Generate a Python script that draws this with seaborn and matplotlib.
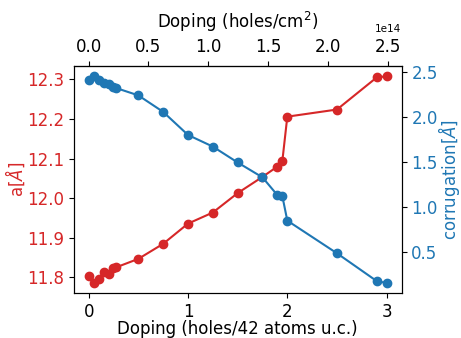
import numpy as np
import matplotlib
matplotlib.use("Agg")
import matplotlib.pyplot as plt
import seaborn as sns
import pandas as pd

# doping in holes per 42-atom unit cell
doping = [0.0, 0.05, 0.10, 0.15, 0.20, 0.25, 0.28, 0.50, 0.75, 1.00,
          1.25, 1.50, 1.75, 1.90, 1.95, 2.00, 2.50, 2.90, 3.00]

# lattice parameter a [A]
lattice_a = [11.804, 11.786, 11.797, 11.813, 11.810, 11.823, 11.826, 11.847, 11.885, 11.936,
             11.964, 12.013, 12.054, 12.080, 12.094, 12.206, 12.224, 12.305, 12.308]

# corrugation [A]
corrugation = [2.404, 2.448, 2.404, 2.371, 2.360, 2.324, 2.316, 2.236, 2.053, 1.797,
               1.668, 1.492, 1.327, 1.130, 1.119, 0.847, 0.485, 0.177, 0.155]

# holes/42 atoms u.c. -> holes/cm^2
conv = 0.83e14

df = pd.DataFrame({"doping": doping, "a": lattice_a, "corr": corrugation})

plt.rcParams["font.size"] = 12

fig, ax1 = plt.subplots(figsize=(4.61, 3.38), dpi=100)

sns.lineplot(data=df, x="doping", y="a", ax=ax1, color="tab:red",
             marker="o", markersize=6, markeredgewidth=1, markeredgecolor="tab:red")
ax1.set_xlabel("Doping (holes/42 atoms u.c.)", labelpad=-1)
ax1.set_ylabel(r"a[$\AA$]", color="tab:red", labelpad=0)
ax1.tick_params(axis="y", labelcolor="tab:red")
ax1.set_xticks([0, 1, 2, 3])

ax2 = ax1.twinx()
sns.lineplot(data=df, x="doping", y="corr", ax=ax2, color="tab:blue",
             marker="o", markersize=6, markeredgewidth=1, markeredgecolor="tab:blue")
ax2.set_ylabel(r"corrugation[$\AA$]", color="tab:blue", labelpad=-1.5)
ax2.tick_params(axis="y", labelcolor="tab:blue")
ax2.set_xlabel("")

top = ax1.secondary_xaxis("top", functions=(lambda x: x * conv, lambda x: x / conv))
top.set_xlabel(r"Doping (holes/cm$^2$)", labelpad=7)
top.xaxis.get_offset_text().set_fontsize(7.5)

plt.subplots_adjust(left=0.16, right=0.871, top=0.805, bottom=0.132)
plt.savefig("out.png", dpi=100)
